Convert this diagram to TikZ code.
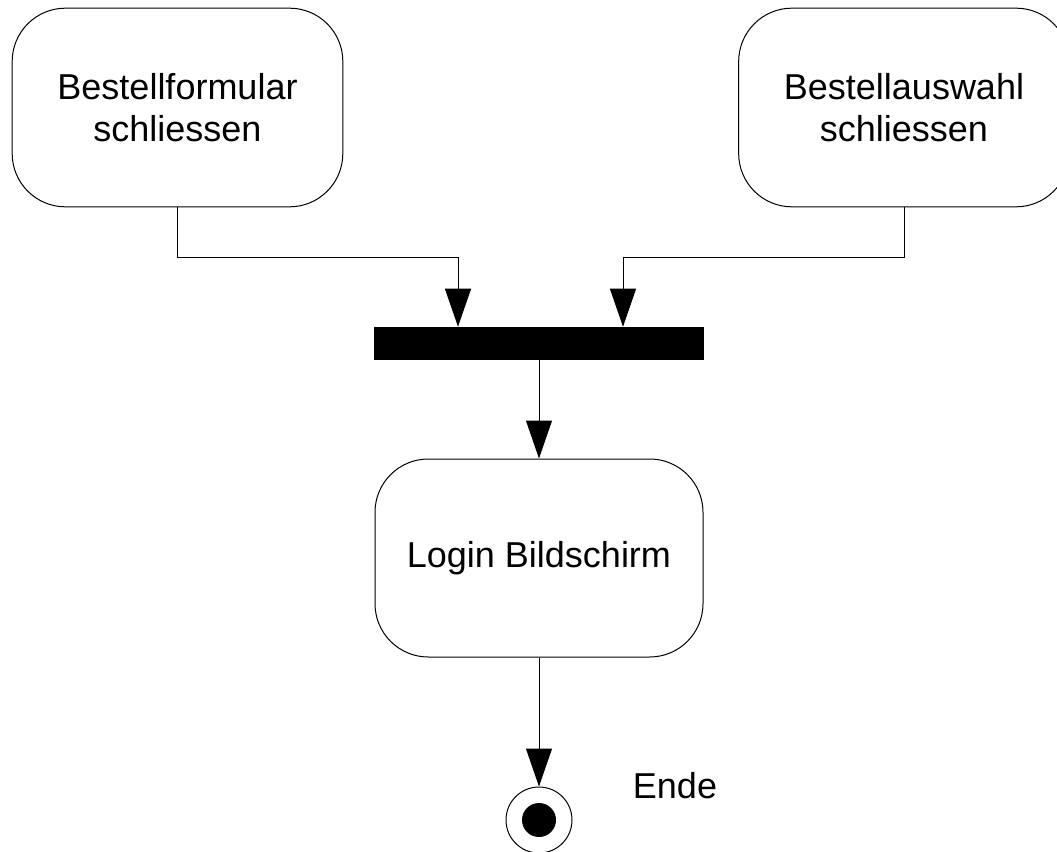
\documentclass[tikz,border=0pt]{standalone}
\usepackage{fontspec}
\setmainfont{Liberation Sans}
\usetikzlibrary{arrows.meta}
\begin{document}
\begin{tikzpicture}[x=0.75pt,y=-0.75pt,
    aktivitaet/.style={draw,line width=0.75pt,rounded corners=40pt,
      minimum width=248pt,minimum height=149pt,align=center,
      font=\fontsize{27}{31.5}\selectfont},
    balken/.style={fill=black,inner sep=0pt,minimum width=247.5pt,minimum height=24.75pt},
    pfeil/.style={-{Triangle[width=19.5pt,length=28.5pt]},line width=0.75pt}]
  \path[use as bounding box,clip] (0,0) rectangle (1057,852);
  \draw
    (177.5,107.5) node[aktivitaet] (formular){Bestellformular\\schliessen}
    (904,107.5) node[aktivitaet] (auswahl){Bestellauswahl\\schliessen}
    (539,343.5) node[balken] (sync){}
    (539,558) node[aktivitaet,minimum width=246pt,minimum height=148.5pt] (login){Login Bildschirm}
    (539,820) node[draw,circle,line width=0.75pt,inner sep=0pt,minimum size=49.5pt] (ende){}
    (539,820) node[fill=black,circle,inner sep=0pt,minimum size=25.5pt] (endpunkt){}
    (675,786) node[font=\fontsize{27}{31.5}\selectfont] (endetext){Ende};
  \coordinate (knick1) at (458,258);
  \coordinate (knick2) at (623,258);
  \begin{scope}[pfeil]
    \draw (formular.south) |- (knick1) -- (knick1 |- sync.north);
    \draw (auswahl.south) |- (knick2) -- (knick2 |- sync.north);
    \draw (sync) -- (login);
    \draw (login) -- (ende);
  \end{scope}
\end{tikzpicture}
\end{document}
